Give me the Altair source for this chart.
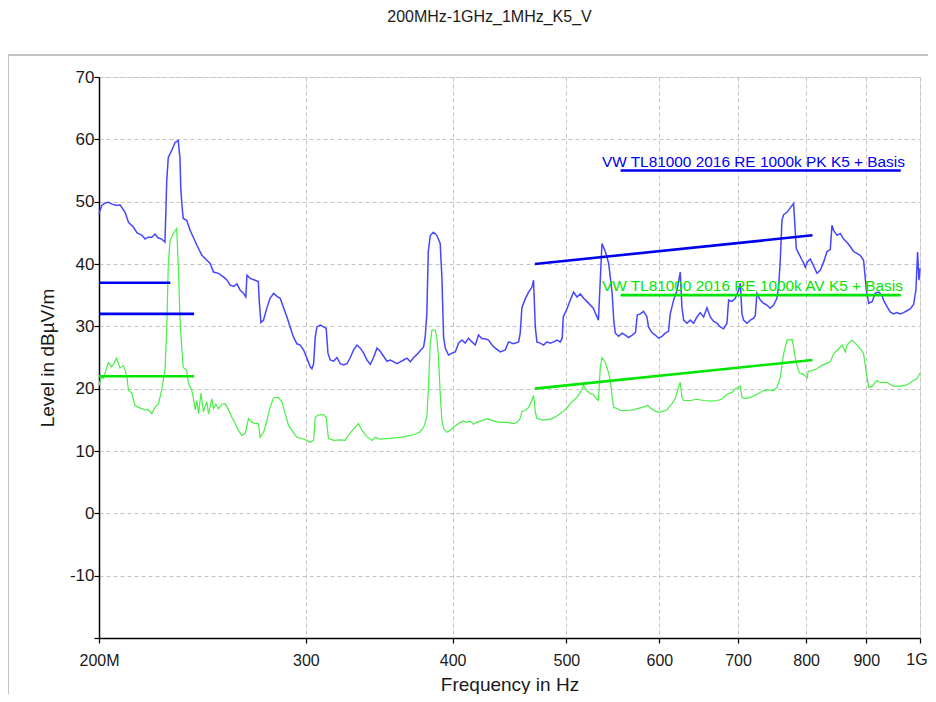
import altair as alt
import pandas as pd

TITLE = "200MHz-1GHz_1MHz_K5_V"

# ---- Peak trace (blue) : frequency in MHz, level in dBuV/m
pk_freq = [200.0, 201.1, 202.4, 203.7, 205.2, 207.0, 208.4, 210.5, 211.9, 214.0, 215.5, 217.6, 218.9,
           220.2, 221.8, 223.2, 224.5, 226.1, 227.6, 227.9, 228.4, 229.1, 230.6, 232.2, 233.6, 234.4,
           234.8, 235.4, 235.9, 237.5, 239.1, 240.6, 242.3, 244.7, 247.1, 248.7, 250.3, 252.8, 255.4,
           257.1, 258.6, 260.4, 262.1, 263.8, 265.5, 266.7, 267.3, 269.0, 271.6, 273.3, 273.9, 274.7,
           276.1, 278.0, 279.7, 281.6, 283.5, 285.3, 287.2, 289.1, 290.9, 292.8, 294.8, 296.7, 298.7,
           300.6, 302.6, 303.6, 304.6, 305.6, 306.6, 308.6, 310.6, 312.2, 313.3, 314.7, 316.8, 318.9,
           320.9, 323.1, 325.2, 327.3, 329.4, 331.6, 333.8, 336.0, 338.2, 340.4, 342.6, 344.9, 347.1,
           349.4, 351.7, 354.0, 356.4, 358.7, 361.0, 363.4, 365.8, 368.2, 370.6, 373.0, 375.4, 377.9,
           379.1, 380.3, 381.4, 382.9, 385.3, 387.8, 390.4, 391.7, 393.0, 394.3, 396.8, 399.5, 402.1,
           404.7, 407.4, 410.0, 412.7, 415.4, 418.2, 420.9, 423.7, 426.4, 429.2, 432.1, 434.9, 439.2,
           443.5, 446.4, 450.8, 455.3, 456.7, 458.2, 461.2, 464.3, 467.3, 468.8, 470.4, 471.9, 475.0,
           478.1, 481.3, 484.4, 487.6, 490.8, 494.0, 495.9, 496.9, 500.0, 503.8, 507.1, 510.5, 513.8,
           517.1, 520.5, 527.0, 532.4, 534.3, 536.1, 539.6, 543.2, 546.9, 548.6, 550.3, 553.9, 557.7,
           561.2, 564.9, 568.8, 572.5, 574.5, 577.9, 581.7, 585.5, 587.3, 591.2, 595.1, 599.0, 603.0,
           606.9, 610.7, 612.9, 616.9, 621.1, 625.0, 627.1, 629.2, 633.3, 637.4, 641.6, 645.8, 650.0,
           654.3, 658.6, 662.9, 667.2, 671.6, 676.0, 680.4, 684.9, 687.2, 691.7, 696.2, 700.7, 703.1,
           705.4, 707.6, 712.3, 717.0, 721.7, 724.0, 726.4, 731.2, 736.0, 740.8, 745.6, 750.5, 755.4,
           757.9, 760.4, 762.9, 765.4, 770.5, 775.4, 780.5, 782.1, 784.6, 788.3, 793.7, 796.3, 798.6,
           801.7, 806.4, 811.7, 817.1, 822.4, 827.8, 833.3, 838.7, 841.5, 844.2, 849.9, 855.3, 860.9,
           866.5, 872.2, 877.9, 883.7, 889.5, 895.3, 900.2, 904.4, 910.6, 916.0, 922.0, 928.0, 931.0,
           937.1, 943.3, 949.5, 955.7, 962.0, 968.3, 974.6, 981.0, 987.5, 992.0, 995.3, 998.0, 1000.0]
pk_level = [48.1, 49.4, 49.8, 49.9, 49.6, 49.4, 49.5, 48.3, 46.7, 45.9, 45.0, 44.6, 44.0,
            44.3, 44.3, 44.8, 44.2, 44.0, 43.5, 47.0, 53.4, 57.1, 58.2, 59.5, 59.8, 57.0,
            52.0, 49.1, 47.3, 47.0, 45.4, 44.3, 43.0, 41.4, 40.6, 40.1, 38.7, 38.5, 37.9,
            37.4, 36.6, 36.4, 36.8, 35.8, 35.3, 34.7, 38.2, 37.7, 37.4, 37.2, 33.7, 30.6,
            31.0, 33.0, 34.5, 35.3, 34.8, 34.5, 33.0, 31.5, 29.9, 28.3, 27.2, 27.0, 26.2,
            24.9, 23.5, 23.2, 24.0, 28.3, 29.9, 30.2, 29.9, 29.7, 25.7, 24.6, 24.4, 25.0,
            24.0, 23.8, 24.0, 25.0, 26.2, 27.0, 26.5, 25.7, 24.6, 23.9, 25.0, 26.5, 26.0,
            25.2, 24.4, 24.6, 24.3, 24.0, 24.3, 24.6, 24.9, 24.3, 25.0, 25.5, 26.1, 26.7,
            28.3, 32.0, 42.0, 44.6, 45.1, 44.6, 43.3, 37.9, 28.3, 26.5, 25.4, 25.7, 25.9,
            27.3, 27.8, 27.3, 28.1, 27.5, 27.0, 28.6, 28.0, 28.0, 27.8, 27.0, 26.5, 25.9,
            26.2, 27.5, 27.2, 27.5, 28.9, 33.0, 34.4, 35.5, 36.3, 37.4, 29.9, 27.5, 27.3,
            27.0, 27.5, 27.3, 27.5, 27.8, 27.5, 28.1, 31.5, 32.6, 34.2, 35.5, 34.7, 35.2,
            34.5, 34.0, 32.9, 31.0, 37.4, 43.3, 42.0, 40.1, 35.3, 31.0, 28.9, 28.4, 28.9,
            28.6, 28.2, 28.6, 29.0, 31.8, 32.0, 32.4, 31.5, 29.9, 29.0, 28.6, 28.1, 28.4,
            28.9, 29.2, 32.0, 34.2, 35.8, 38.7, 33.0, 31.0, 30.5, 31.0, 30.5, 31.5, 32.2,
            31.5, 33.0, 31.5, 30.8, 30.5, 29.9, 29.6, 30.5, 34.2, 34.0, 34.5, 35.8, 36.9,
            32.0, 31.0, 30.5, 31.0, 31.3, 31.7, 35.3, 34.2, 33.7, 33.4, 32.9, 33.4, 34.5,
            36.3, 40.6, 47.0, 47.9, 48.3, 49.0, 49.7, 47.0, 42.5, 41.7, 40.6, 40.1, 39.5,
            40.3, 40.8, 39.7, 38.5, 39.0, 40.3, 42.0, 42.3, 46.2, 45.4, 44.6, 44.9, 44.0,
            43.5, 42.8, 42.0, 41.7, 41.4, 40.6, 35.8, 33.7, 34.0, 35.3, 35.5, 35.0, 34.2,
            33.2, 32.3, 32.0, 32.2, 32.0, 32.2, 32.5, 32.8, 33.5, 35.8, 41.9, 37.4, 39.3]

# ---- Average trace (green)
av_freq = [200.0, 200.7, 201.7, 203.7, 205.0, 205.7, 207.0, 208.4, 209.7, 210.5, 211.2, 211.9, 213.3,
           214.6, 216.0, 217.6, 218.9, 220.3, 221.8, 223.2, 224.7, 226.1, 227.6, 228.4, 229.1, 229.9,
           231.4, 232.9, 233.6, 234.4, 235.2, 235.9, 237.5, 238.3, 239.9, 240.6, 241.5, 242.3, 243.1,
           244.3, 245.4, 247.1, 247.9, 249.5, 250.3, 251.5, 252.8, 254.4, 256.1, 257.8, 259.5, 261.2,
           262.9, 264.6, 266.4, 268.1, 269.9, 271.6, 273.4, 274.3, 276.1, 277.0, 279.7, 281.6, 284.3,
           286.2, 288.1, 290.0, 291.9, 294.8, 297.7, 300.6, 302.6, 304.6, 305.6, 307.6, 310.6, 312.2,
           313.6, 316.8, 320.9, 324.1, 326.2, 329.4, 332.6, 334.9, 338.2, 341.5, 343.7, 347.1, 351.7,
           356.4, 361.0, 365.8, 370.6, 375.4, 377.9, 380.3, 381.4, 382.9, 384.1, 386.6, 387.8, 389.1,
           390.4, 391.7, 393.0, 395.6, 398.2, 400.9, 403.5, 406.0, 408.7, 411.4, 414.1, 416.8, 419.5,
           422.3, 425.0, 427.8, 430.6, 433.4, 439.2, 445.0, 450.8, 453.8, 456.7, 458.2, 461.2, 464.3,
           467.3, 468.8, 470.4, 471.9, 476.6, 481.3, 486.0, 490.8, 494.0, 497.2, 500.5, 503.8, 507.1,
           510.5, 513.8, 515.4, 517.1, 520.5, 523.9, 527.0, 528.9, 532.4, 534.3, 536.1, 539.6, 543.2,
           544.9, 546.9, 548.6, 552.3, 555.7, 562.9, 570.5, 574.5, 580.6, 586.4, 589.3, 595.1, 599.0,
           604.9, 608.9, 614.9, 618.9, 622.6, 625.0, 627.1, 629.2, 637.4, 645.8, 654.3, 662.9, 671.6,
           678.2, 684.9, 691.7, 696.2, 700.7, 703.1, 705.4, 710.0, 717.0, 726.4, 736.0, 740.8, 750.5,
           755.4, 760.4, 765.4, 770.5, 778.2, 780.5, 783.1, 785.7, 789.6, 795.8, 801.7, 803.3, 809.0,
           817.1, 824.0, 833.3, 838.7, 844.2, 852.6, 858.3, 864.0, 866.5, 875.0, 880.8, 889.5, 895.3,
           900.2, 904.4, 910.6, 919.0, 925.0, 937.1, 949.5, 962.0, 974.6, 987.5, 994.0, 1000.0]
av_level = [20.5, 21.7, 21.7, 24.2, 23.5, 23.9, 24.9, 23.3, 23.7, 23.0, 22.0, 19.7, 19.3,
            17.3, 17.0, 16.8, 16.6, 16.6, 16.0, 17.0, 17.5, 19.7, 23.0, 29.4, 40.0, 43.8,
            44.9, 45.7, 40.0, 31.4, 26.6, 23.4, 23.0, 20.9, 19.7, 18.6, 16.6, 18.1, 16.0,
            19.3, 16.3, 17.9, 15.9, 18.4, 16.8, 17.5, 16.8, 17.5, 17.6, 16.6, 15.4, 14.4,
            13.3, 12.5, 12.8, 15.2, 14.6, 14.4, 14.4, 12.2, 13.0, 13.8, 17.0, 18.5, 18.6,
            17.9, 16.0, 14.1, 13.3, 12.2, 12.0, 11.7, 11.4, 11.7, 15.4, 15.8, 15.8, 15.4,
            12.0, 11.7, 11.8, 11.7, 12.6, 13.5, 14.4, 13.3, 12.3, 11.7, 12.2, 11.9, 12.0,
            12.1, 12.2, 12.4, 12.6, 13.1, 13.8, 15.4, 19.7, 27.3, 29.4, 29.4, 28.3, 25.0,
            19.3, 14.9, 13.6, 13.0, 13.3, 13.9, 14.2, 14.6, 14.8, 14.6, 14.8, 14.3, 14.6,
            14.8, 15.0, 15.2, 15.0, 14.8, 14.6, 14.6, 14.4, 14.6, 15.2, 16.3, 16.5, 17.0,
            18.1, 18.9, 16.3, 15.2, 15.0, 15.0, 15.2, 15.6, 16.0, 16.4, 16.9, 17.6, 18.1,
            18.6, 19.4, 19.9, 20.5, 19.7, 19.2, 19.1, 18.6, 18.1, 23.4, 25.0, 24.2, 22.5,
            21.4, 18.6, 17.0, 16.8, 16.5, 16.5, 16.6, 16.8, 17.0, 17.3, 16.9, 16.4, 16.2,
            16.4, 16.6, 17.6, 18.4, 20.2, 21.0, 18.6, 18.1, 18.1, 18.3, 18.1, 18.0, 18.1,
            18.3, 19.1, 19.4, 20.0, 20.2, 20.4, 18.6, 18.4, 18.6, 19.1, 19.7, 19.8, 19.7,
            20.2, 21.8, 25.6, 27.8, 27.9, 26.7, 25.0, 23.7, 22.5, 22.3, 21.7, 22.8, 22.9,
            23.2, 23.7, 24.1, 24.3, 25.6, 26.4, 27.0, 25.9, 27.0, 27.8, 27.3, 26.4, 25.6,
            22.5, 20.2, 20.4, 21.3, 21.0, 21.0, 20.4, 20.4, 20.6, 21.3, 21.6, 22.5]

# ---- Limit line segments
lim_f1 = [200, 200, 200, 470, 470]
lim_f2 = [230, 241, 241, 810, 810]
lim_l1 = [37, 32, 22, 40.0, 20.0]
lim_l2 = [37, 32, 22, 44.6, 24.6]
lim_kind = ["PK", "PK", "AV", "PK", "AV"]

# ---- Limit legend labels
leg_text = ["VW TL81000 2016 RE 1000k PK K5 + Basis", "VW TL81000 2016 RE 1000k AV K5 + Basis"]
leg_kind = ["PK", "AV"]
leg_level = [55, 35]
leg_f1 = [556, 556]
leg_f2 = [963, 963]
leg_text_f = [536, 536]

# ---- Axis ticks
x_ticks = [200, 300, 400, 500, 600, 700, 800, 900, 1000]
y_ticks = list(range(-20, 75, 5))
end_label = ["1G"]
end_label_f = [1000]
end_label_v = [-20]

TRACE_BLUE = "#4646ff"
TRACE_GREEN = "#46f046"
LIM_BLUE = "#0000f0"
LIM_GREEN = "#00e600"
FONT = "Liberation Sans"

pk = pd.DataFrame({"f": pk_freq, "v": pk_level})
av = pd.DataFrame({"f": av_freq, "v": av_level})
lim = pd.DataFrame({"f1": lim_f1, "f2": lim_f2, "l1": lim_l1, "l2": lim_l2, "kind": lim_kind})
leg = pd.DataFrame({"t": leg_text, "kind": leg_kind, "v": leg_level,
                    "f1": leg_f1, "f2": leg_f2, "ft": leg_text_f})
endlab = pd.DataFrame({"t": end_label, "f": end_label_f, "v": end_label_v})

xscale = alt.Scale(type="log", domain=[200, 1000], nice=False)
yscale = alt.Scale(domain=[-20, 70], nice=False, zero=False)

xaxis = alt.Axis(
    title="Frequency in Hz", values=x_ticks,
    labelExpr="datum.value == 200 ? '200M' : (datum.value == 1000 ? '' : '' + datum.value)",
    grid=True, gridDash=[4, 3], gridColor="#c4c4c4", gridWidth=1,
    domainColor="#000000", domainWidth=1.5, tickColor="#000000", tickSize=5, tickWidth=1.2,
    labelFont=FONT, labelFontSize=16, labelColor="#1a1a1a", labelPadding=9,
    labelOverlap=False, labelFlush=False,
    titleFont=FONT, titleFontSize=19, titleFontWeight="normal", titleColor="#1a1a1a",
    titlePadding=7,
)
yaxis = alt.Axis(
    title="Level in dBµV/m", values=y_ticks,
    labelExpr="(datum.value % 10 == 0 && datum.value > -20) ? ('' + datum.value) : ''",
    grid=True, gridDash=[4, 3], gridColor="#c4c4c4", gridWidth=1,
    domainColor="#000000", domainWidth=1.5, tickColor="#000000", tickSize=5, tickWidth=1.2,
    labelFont=FONT, labelFontSize=17, labelColor="#1a1a1a", labelPadding=0,
    labelOverlap=False, labelFlush=False,
    titleFont=FONT, titleFontSize=19, titleFontWeight="normal", titleColor="#1a1a1a",
    titlePadding=12,
)

color_scale_lim = alt.Scale(domain=["PK", "AV"], range=[LIM_BLUE, LIM_GREEN])
color_scale_txt = alt.Scale(domain=["PK", "AV"], range=["#1e1eff", "#2ee02e"])

pk_line = alt.Chart(pk).mark_line(color=TRACE_BLUE, strokeWidth=1.5, interpolate="linear").encode(
    x=alt.X("f:Q", scale=xscale, axis=xaxis),
    y=alt.Y("v:Q", scale=yscale, axis=yaxis),
    order="f:Q",
)
av_line = alt.Chart(av).mark_line(color=TRACE_GREEN, strokeWidth=1.2).encode(
    x=alt.X("f:Q", scale=xscale),
    y=alt.Y("v:Q", scale=yscale),
    order="f:Q",
)
lim_rules = alt.Chart(lim).mark_rule(strokeWidth=2.6).encode(
    x=alt.X("f1:Q", scale=xscale), x2="f2:Q",
    y=alt.Y("l1:Q", scale=yscale), y2="l2:Q",
    color=alt.Color("kind:N", scale=color_scale_lim, legend=None),
)
leg_rules = alt.Chart(leg).mark_rule(strokeWidth=2.6).encode(
    x=alt.X("f1:Q", scale=xscale), x2="f2:Q",
    y=alt.Y("v:Q", scale=yscale),
    color=alt.Color("kind:N", scale=color_scale_lim, legend=None),
)
leg_text_mark = alt.Chart(leg).mark_text(
    align="left", baseline="alphabetic", dy=-4, font=FONT, fontSize=15.4
).encode(
    x=alt.X("ft:Q", scale=xscale),
    y=alt.Y("v:Q", scale=yscale),
    text="t:N",
    color=alt.Color("kind:N", scale=color_scale_txt, legend=None),
)
end_text = alt.Chart(endlab).mark_text(
    align="center", baseline="top", dy=14, dx=-3, font=FONT, fontSize=16, color="#1a1a1a"
).encode(
    x=alt.X("f:Q", scale=xscale),
    y=alt.Y("v:Q", scale=yscale),
    text="t:N",
)
frame = alt.Chart(pd.DataFrame({"k": [0]})).mark_rect(
    filled=False, stroke="#c2c2c2", strokeWidth=2
).encode(
    x=alt.value(-91), x2=alt.value(836), y=alt.value(-22), y2=alt.value(623)
)

chart = alt.layer(
    frame, pk_line, av_line, lim_rules, leg_rules, leg_text_mark, end_text
).properties(
    width=821, height=561,
    title=alt.TitleParams(TITLE, font=FONT, fontSize=16, fontWeight="normal", color="#1a1a1a",
                          anchor="middle", offset=29, dx=-20),
    autosize=alt.AutoSizeParams(type="none"),
    padding={"left": 91, "top": 69, "right": 8, "bottom": 56},
).configure_view(stroke=None).configure(background="white")

chart.save("out.html", embed_options={"renderer": "svg", "actions": False})
